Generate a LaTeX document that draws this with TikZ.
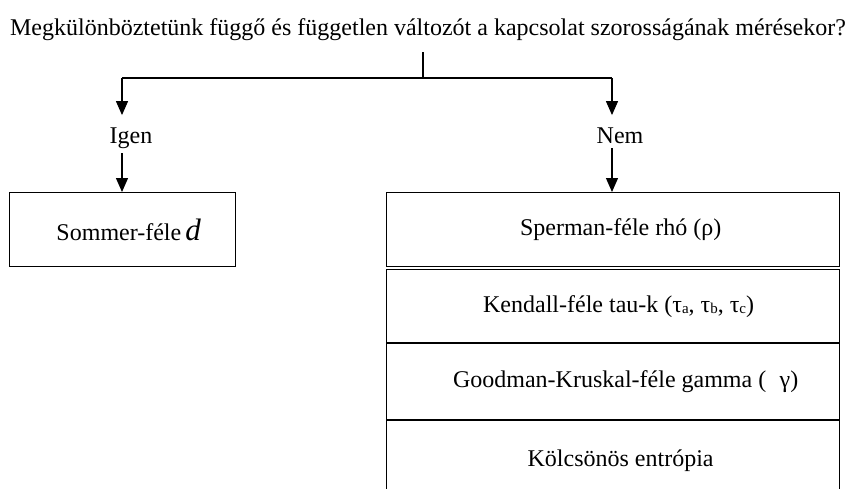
\documentclass[tikz,border=0pt]{standalone}
\usepackage{fontspec}
\setmainfont{Liberation Serif}
\usetikzlibrary{arrows.meta}
\newcommand{\subl}[1]{\raisebox{-1pt}{\fontsize{15}{15}\selectfont #1}}
\begin{document}
\begin{tikzpicture}[x=1pt,y=-1pt,
  every node/.style={font=\fontsize{24}{28}\selectfont},
  conn/.style={line width=1.2pt},
  arr/.style={line width=1.2pt,-{Triangle[width=12pt,length=14pt]}},
  optbox/.style={draw,line width=1.3pt,rectangle,inner sep=0pt,anchor=north west},
  answer/.style={inner sep=0pt}]
\useasboundingbox (0,0) rectangle (855,488);
\clip (0,0) rectangle (855,488);

% question
\node[anchor=base] (title) at (428,35)
  {Megkülönböztetünk függő és független változót a kapcsolat szorosságának mérésekor?};
\coordinate (t)  at (423,52);
\coordinate (j)  at (423,78);
\coordinate (jl) at (122,78);
\coordinate (jr) at (612,78);

% answers
\node[answer,anchor=base] (igen) at (122,143) {\hspace*{18pt}Igen};
\node[answer,anchor=base] (nem)  at (612,143) {\hspace*{16pt}Nem};

% measures
\node[optbox,minimum width=226pt,minimum height=74pt] (somm) at (9,192)
  {\hspace*{12pt}Sommer-féle\,{\fontsize{31}{33}\selectfont\itshape d}};
\node[optbox,minimum width=453pt,minimum height=74pt] (sper) at (386,192)
  {\hspace*{15pt}Sperman-féle rhó (ρ)};
\node[optbox,minimum width=453pt,minimum height=73pt] (kend) at (386,269)
  {\hspace*{11pt}Kendall-féle tau-k (τ\subl{a}, τ\subl{b}, τ\subl{c})};
\node[optbox,minimum width=453pt,minimum height=76pt] (good) at (386,343)
  {\hspace*{25pt}Goodman-Kruskal-féle gamma (\;\;γ)};
\node[optbox,minimum width=453pt,minimum height=80pt] (kolc) at (386,420)
  {\hspace*{15pt}Kölcsönös entrópia};

% connectors
\draw[conn] (t) -- (j);
\draw[conn] (jl) -- (jr);
\draw[arr] (jl) -- ([yshift=12pt]igen.north);
\draw[arr] (jr) -- ([yshift=12pt]nem.north);
\draw[arr] ([yshift=-5pt]igen.south) -- (igen.south |- somm.north);
\draw[arr] ([yshift=-5pt]nem.south) -- (nem.south |- sper.north);
\end{tikzpicture}
\end{document}
